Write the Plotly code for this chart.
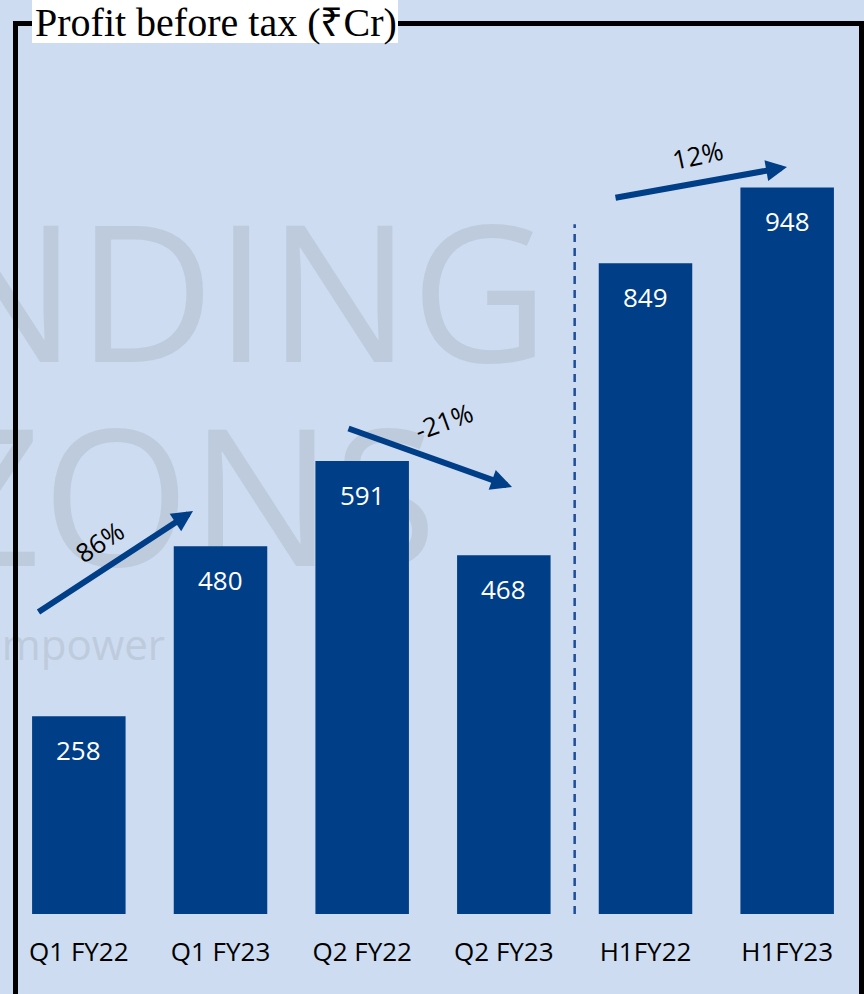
import plotly.graph_objects as go

# ---- data ----
categories = ["Q1 FY22", "Q1 FY23", "Q2 FY22", "Q2 FY23", "H1FY22", "H1FY23"]
pbt = [258, 480, 591, 468, 849, 948]
growth_labels = ["86%", "-21%", "12%"]
title_text = "Profit before tax (₹Cr)"

BAR = "#003E87"
BG = "#CDDCF0"
WM = "#BDCBDD"

W, H = 864, 994
ML, MR, MT, MB = 8, 6, 71, 80
PW, PH = W - ML - MR, H - MT - MB


def px(x):
    return (x - ML) / PW


def py(y):
    return (H - MB - y) / PH


fig = go.Figure()
fig.add_trace(go.Bar(
    x=categories, y=pbt, marker=dict(color=BAR, line=dict(width=0)),
    width=0.66, hoverinfo="skip", showlegend=False,
))

annotations = []
# value labels inside the bars
for c, v in zip(categories, pbt):
    annotations.append(dict(
        x=c, y=v, xref="x", yref="y", text=str(v), showarrow=False,
        yshift=-34, font=dict(family="Open Sans", size=26, color="white"),
    ))

# growth arrows (tail px, head px) and labels
arrows = [((37, 613), (193, 511)), ((347, 428), (512, 487)), ((614, 198), (787, 167))]
label_pos = [((99, 542), -33), ((444, 421), -20), ((697, 155), -12)]
for (t, h) in arrows:
    annotations.append(dict(
        x=px(h[0]), y=py(h[1]), xref="paper", yref="paper",
        ax=t[0] - h[0], ay=t[1] - h[1], axref="pixel", ayref="pixel",
        text="", showarrow=True, arrowhead=2, arrowsize=0.7, arrowwidth=6,
        arrowcolor=BAR, standoff=0, startstandoff=0,
    ))
for lab, ((cx, cy), ang) in zip(growth_labels, label_pos):
    annotations.append(dict(
        x=px(cx), y=py(cy), xref="paper", yref="paper", text=lab,
        showarrow=False, textangle=ang, xanchor="center", yanchor="middle",
        font=dict(family="Open Sans", size=26, color="black"),
    ))

# title
annotations.append(dict(
    x=px(33), y=py(22), xref="paper", yref="paper", text=title_text,
    showarrow=False, xanchor="left", yanchor="middle",
    font=dict(family="Liberation Serif", size=40, color="black"),
))

shapes = []
# watermark texts (below bars)
for txt, (x0, x1, y0, y1), size in [
    ("NDING", (-300, 552, 226, 376), 190),
    ("ZONS", (-300, 440, 430, 580), 190),
    ("mpower", (-200, 168, 628, 664), 42),
]:
    shapes.append(dict(
        type="rect", xref="paper", yref="paper", layer="below",
        x0=px(x0), x1=px(x1), y0=py(y1), y1=py(y0),
        line=dict(width=0), fillcolor="rgba(0,0,0,0)",
        label=dict(text=txt, textposition="middle right", padding=0,
                   font=dict(family="Open Sans", size=size, color=WM)),
    ))

# dashed separator between quarterly and half-year bars
shapes.append(dict(
    type="line", xref="x", yref="y", x0=3.5, x1=3.5, y0=0, y1=900,
    line=dict(color="#1F4E96", width=2.5, dash="8px,6px"), layer="above",
))

# frame
for (x0, y0, x1, y1) in [(15.5, 21, 15.5, 1000), (13, 23.5, 864, 23.5), (861.5, 21, 861.5, 1000)]:
    shapes.append(dict(
        type="line", xref="paper", yref="paper",
        x0=px(x0), x1=px(x1), y0=py(y0), y1=py(y1),
        line=dict(color="black", width=5), layer="above",
    ))
# white title box
shapes.append(dict(
    type="rect", xref="paper", yref="paper", x0=px(32), x1=px(398),
    y0=py(43), y1=py(-5), fillcolor="white", line=dict(width=0), layer="above",
))

fig.update_layout(
    width=W, height=H, margin=dict(l=ML, r=MR, t=MT, b=MB),
    paper_bgcolor=BG, plot_bgcolor=BG,
    xaxis=dict(range=[-0.5, 5.5], showgrid=False, zeroline=False, showline=False,
               ticks="", ticklabelstandoff=20,
               tickfont=dict(family="Open Sans", size=26, color="black")),
    yaxis=dict(range=[0, 1100], visible=False, showgrid=False, zeroline=False),
    annotations=annotations, shapes=shapes, bargap=0.34, showlegend=False,
)

fig.write_html(
    "out.html",
    config={"displayModeBar": False},
    post_script="document.body.style.margin='0';document.body.style.overflow='hidden';",
)
